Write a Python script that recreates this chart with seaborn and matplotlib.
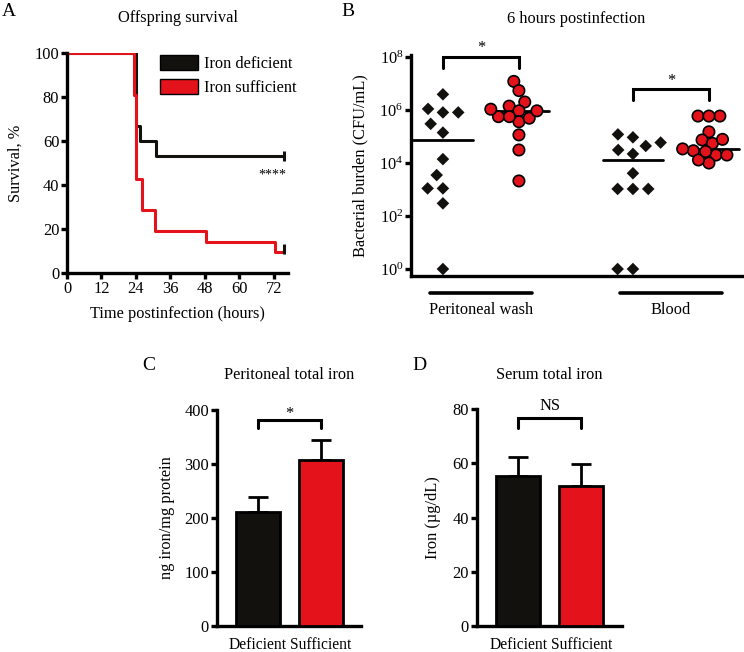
import numpy as np
import pandas as pd
import matplotlib
matplotlib.use("Agg")
import matplotlib.pyplot as plt
import matplotlib.transforms as mtransforms
from matplotlib.patches import Patch
import seaborn as sns

# --- A: offspring survival (Kaplan-Meier steps) ---
deficient_time = [0, 24, 25.5, 31, 75.5]
deficient_surv = [100, 66.7, 60.0, 53.3, 53.3]
sufficient_time = [0, 23.5, 24, 26, 30.5, 48.5, 72.5, 75.5]
sufficient_surv = [100, 81.0, 42.9, 28.6, 19.0, 14.3, 9.5, 9.5]

# --- B: bacterial burden 6 h postinfection (CFU/mL) ---
sites = ["Peritoneal wash", "Blood"]
diets = ["Iron deficient", "Iron sufficient"]
wash_deficient = [3.9e6, 1.1e6, 8.1e5, 8.1e5, 3.0e5, 1.4e5, 1.4e4, 3.5e3, 1.1e3, 1.1e3, 3.0e2, 1]
wash_sufficient = [1.2e7, 5.4e6, 2.0e6, 1.4e6, 9.3e5, 5.6e5, 3.6e5, 4.9e5, 5.6e5,
                   9.3e5, 1.07e6, 1.15e5, 3.1e4, 2.1e3]
blood_deficient = [1.2e5, 9.3e4, 4.4e4, 5.9e4, 2.2e4, 3.1e4, 4.1e3, 1.05e3, 1.05e3, 1.05e3, 1, 1]
blood_sufficient = [5.9e5, 5.9e5, 5.9e5, 1.5e5, 7.4e4, 5.5e4, 7.8e4, 2.9e4, 2.0e4, 2.0e4,
                    1.0e4, 1.3e4, 2.7e4, 3.4e4]
# horizontal summary lines
wash_lines = [7.4e4, 9.1e5]
blood_lines = [1.26e4, 3.4e4]

# --- C / D: total iron (mean, SEM) ---
bar_labels = ["Deficient", "Sufficient"]
peritoneal_iron = [211, 307]
peritoneal_sem = [27, 37]
serum_iron = [55.3, 51.8]
serum_sem = [7.2, 8.0]

BLACK = "#12110e"
RED = "#e3121b"
FS = 11.8

sns.set_style("ticks")
plt.rcParams["font.family"] = ["Liberation Serif", "DejaVu Serif"]
plt.rcParams["mathtext.fontset"] = "custom"
plt.rcParams["mathtext.rm"] = "Liberation Serif"
plt.rcParams.update({
    "font.size": FS, "axes.labelsize": FS, "axes.titlesize": FS,
    "xtick.labelsize": FS, "ytick.labelsize": FS,
    "axes.linewidth": 2.4, "axes.edgecolor": "black",
    "xtick.major.width": 2.4, "ytick.major.width": 2.4,
    "xtick.major.size": 4, "ytick.major.size": 4,
    "xtick.major.pad": 2, "ytick.major.pad": 1.5,
    "xtick.color": "black", "ytick.color": "black",
    "text.color": "black", "axes.labelcolor": "black",
})

fig = plt.figure(figsize=(7.44, 6.52), dpi=100)
W, H = 744, 652


def add_ax(left, top, right, bottom):
    return fig.add_axes([left / W, 1 - bottom / H, (right - left) / W, (bottom - top) / H])


def letter(x, y, s):
    fig.text(x / W, 1 - y / H, s, fontsize=14, ha="center", va="center")


# ---------------- A ----------------
axA = add_ax(67, 53, 288, 273)
sns.lineplot(x=deficient_time, y=deficient_surv, drawstyle="steps-post",
             color=BLACK, lw=2.2, ax=axA)
sns.lineplot(x=sufficient_time, y=sufficient_surv, drawstyle="steps-post",
             color=RED, lw=2.2, ax=axA)
axA.plot(deficient_time[-1], deficient_surv[-1], marker="|", ms=7, mew=2.2, color=BLACK, clip_on=False)
axA.plot(sufficient_time[-1], sufficient_surv[-1] + 1.5, marker="|", ms=7, mew=2.2, color=BLACK, clip_on=False)
axA.set_xlim(0, 77)
axA.set_ylim(0, 100)
axA.set_xticks([0, 12, 24, 36, 48, 60, 72])
axA.set_yticks([0, 20, 40, 60, 80, 100])
axA.set_xlabel("Time postinfection (hours)", labelpad=6)
axA.set_ylabel("Survival, %", labelpad=8)
axA.set_title("Offspring survival", pad=22)
axA.text(71.7, 44.5, "****", fontsize=10, ha="center", va="center")
handles = [Patch(facecolor=BLACK, edgecolor="black"), Patch(facecolor=RED, edgecolor="black")]
axA.legend(handles, diets, loc="upper left", bbox_to_anchor=(0.42, 0.99), frameon=False,
           borderpad=0, borderaxespad=0, handlelength=2.3, handleheight=1.05,
           handletextpad=0.4, labelspacing=0.4, fontsize=FS)
sns.despine(ax=axA)

# ---------------- B ----------------
axB = add_ax(411, 55, 742, 276)
burden = pd.DataFrame({
    "site": [sites[0]] * (len(wash_deficient) + len(wash_sufficient))
            + [sites[1]] * (len(blood_deficient) + len(blood_sufficient)),
    "diet": [diets[0]] * len(wash_deficient) + [diets[1]] * len(wash_sufficient)
            + [diets[0]] * len(blood_deficient) + [diets[1]] * len(blood_sufficient),
    "cfu": wash_deficient + wash_sufficient + blood_deficient + blood_sufficient,
})
axB.set_yscale("log")
axB.set_ylim(10 ** -0.264, 10 ** 8.075)
axB.set_xlim(-0.368, 1.374)
# swarm spacing size (layout) vs the size the markers are finally shown at
styles = {diets[0]: dict(marker="D", size=10.5, linewidth=0),
          diets[1]: dict(marker="o", size=6.3, linewidth=1.2, edgecolor="black")}
shown_size = {diets[0]: 6.4, diets[1]: 8.2}
swarms = []
for d in diets:
    n0 = len(axB.collections)
    sns.swarmplot(data=burden[burden["diet"] == d], x="site", y="cfu", hue="diet",
                  order=sites, hue_order=diets, palette=[BLACK, RED], dodge=True,
                  log_scale=True, legend=False, ax=axB, warn_thresh=1, **styles[d])
    swarms.append((axB.collections[n0:], shown_size[d]))
dodge = [-0.2, 0.2]
for i, vals in enumerate([wash_lines, blood_lines]):
    for j, v in enumerate(vals):
        c = i + dodge[j]
        axB.plot([c - 0.16, c + 0.16], [v, v], color="black", lw=2, zorder=1)
axB.set_ylim(10 ** -0.264, 10 ** 8.075)
axB.set_yticks([1, 1e2, 1e4, 1e6, 1e8])
axB.yaxis.set_minor_locator(matplotlib.ticker.NullLocator())
axB.set_xlim(-0.368, 1.374)
axB.set_xticks([0, 1], sites)
axB.tick_params(axis="x", length=0, pad=19)
axB.set_xlabel("")
axB.set_ylabel("Bacterial burden (CFU/mL)", labelpad=8)
axB.set_title("6 hours postinfection", pad=23)
trans = mtransforms.blended_transform_factory(axB.transData, axB.transAxes)
for i in range(len(sites)):
    axB.plot([i - 0.27, i + 0.27], [-0.077, -0.077], color="black", lw=2.6,
             transform=trans, clip_on=False, solid_capstyle="round")


def bracket(ax, x0, x1, top, leg, label, label_y, size=FS):
    ax.plot([x0, x0, x1, x1], [leg, top, top, leg], color="black", lw=2.2,
            clip_on=False, solid_joinstyle="miter")
    ax.text((x0 + x1) / 2, label_y, label, ha="center", va="center", fontsize=size, clip_on=False)


bracket(axB, -0.2, 0.2, 1e8, 10 ** 7.58, "*", 10 ** 8.33)
bracket(axB, 0.8, 1.2, 10 ** 6.79, 10 ** 6.38, "*", 10 ** 7.08)
sns.despine(ax=axB)


# ---------------- C / D ----------------
def bar_panel(ax, means, sems):
    df = pd.DataFrame({"diet": bar_labels, "value": means})
    sns.barplot(data=df, x="diet", y="value", hue="diet", palette=[BLACK, RED],
                saturation=1, width=0.7, edgecolor="black", linewidth=2,
                legend=False, ax=ax, zorder=3)
    ax.errorbar(range(len(means)), means, yerr=[[0] * len(sems), sems], fmt="none",
                ecolor="black", elinewidth=2, capsize=7.5, capthick=2, zorder=2)
    ax.set_xlim(-0.66, 1.64)
    ax.set_xlabel("")
    ax.tick_params(axis="x", length=0, pad=8, labelsize=11.2)
    sns.despine(ax=ax)


axC = add_ax(216.7, 409.5, 361, 625.7)
bar_panel(axC, peritoneal_iron, peritoneal_sem)
axC.set_ylim(0, 400)
axC.set_yticks([0, 100, 200, 300, 400])
axC.set_ylabel("ng iron/mg protein", labelpad=7)
axC.set_title("Peritoneal total iron", pad=22)
bracket(axC, 0, 1, 381, 365, "*", 391)

axD = add_ax(476.7, 409.3, 621.7, 625.7)
bar_panel(axD, serum_iron, serum_sem)
axD.set_ylim(0, 80)
axD.set_yticks([0, 20, 40, 60, 80])
axD.set_ylabel("Iron (µg/dL)", labelpad=8)
axD.set_title("Serum total iron", pad=22)
bracket(axD, 0, 1, 76.7, 73, "NS", 81.2)

letter(9, 12, "A")
letter(348, 12, "B")
letter(149, 365, "C")
letter(419, 365, "D")

# let seaborn lay out the swarms, then freeze them and show the markers at full size
fig.canvas.draw()
for colls, size in swarms:
    for coll in colls:
        coll.__dict__.pop("draw", None)
        coll.set_sizes([size ** 2])

fig.savefig("out.png", dpi=100)
